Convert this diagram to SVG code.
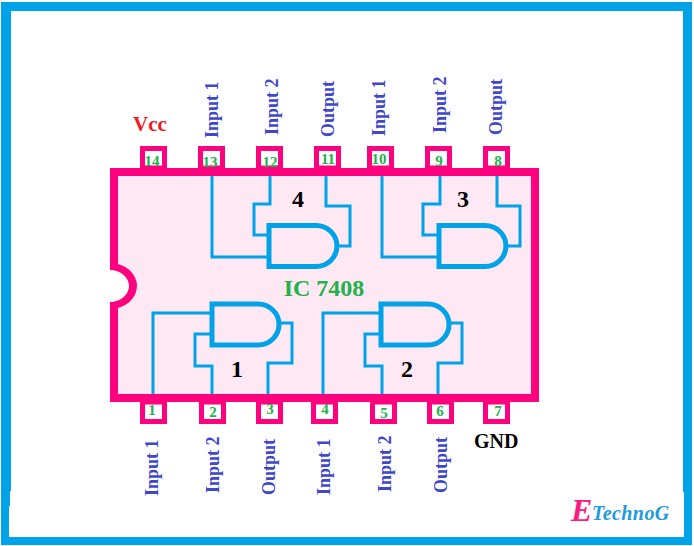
<svg xmlns="http://www.w3.org/2000/svg" width="694" height="546" viewBox="0 0 694 546">
<style>
text{font-family:"Liberation Serif","Times New Roman",serif;font-weight:bold}
.pin{fill:#fff;stroke:#ff007f;stroke-width:5}
.wire{fill:none;stroke:#00a2e8;stroke-width:3}
.gate{fill:none;stroke:#00a2e8;stroke-width:5}
.num{fill:#22b14c;font-size:15px;text-anchor:middle}
.lab{fill:#3f48cc;font-size:18px}
.big{fill:#000;font-size:24px;text-anchor:middle}
</style>
<rect width="694" height="546" fill="#fff"/>
<g id="frame"><path d="M1 2H692V545H1Z M11 11V491H10V506H9V537H684V492H683V11Z" fill="#00a2e8" fill-rule="evenodd"/></g>
<g id="chip">
<rect x="114" y="172" width="421" height="226" fill="#fde8f4" stroke="#ff007f" stroke-width="8"/>
<path d="M110 263A27 23 0 0 1 110 309Z" fill="#ff007f"/>
<path d="M110 270A19 16 0 0 1 110 302Z" fill="#fff"/>
<text x="324" y="296" style="font-size:24px;fill:#22b14c;text-anchor:middle">IC 7408</text>
</g>
<g id="connectors">
<path class="wire" d="M212 176V257H269"/>
<path class="wire" d="M270 176V204H254V235H269"/>
<path class="wire" d="M326 176V206H350V246H338"/>
<path class="wire" d="M382 176V257H439"/>
<path class="wire" d="M440 176V204H423V235H439"/>
<path class="wire" d="M497 176V206H520V246H507"/>
<path class="wire" d="M153 394V313H212"/>
<path class="wire" d="M212 394V366H195V334H212"/>
<path class="wire" d="M268 394V363H292V323H280"/>
<path class="wire" d="M323 394V313H381"/>
<path class="wire" d="M382 394V366H365V334H381"/>
<path class="wire" d="M438 394V363H462V323H450"/>
</g>
<g id="gate4"><path class="gate" d="M269 225.500H316A21 20.500 0 0 1 316 266.500H269Z"/><text class="big" x="298" y="207">4</text></g>
<g id="gate3"><path class="gate" d="M439 225.500H485A21 20.500 0 0 1 485 266.500H439Z"/><text class="big" x="463" y="207">3</text></g>
<g id="gate1"><path class="gate" d="M212 304H258A21 20.500 0 0 1 258 345H212Z"/><text class="big" x="237" y="377">1</text></g>
<g id="gate2"><path class="gate" d="M381 304H428A21 20.500 0 0 1 428 345H381Z"/><text class="big" x="407" y="377">2</text></g>
<g id="pin14"><rect class="pin" x="142.500" y="148.500" width="22" height="19.500"/><text class="num" x="152" y="166">14</text>
<text x="133" y="131" style="font-size:21px;fill:#ed1c24">Vcc</text></g>
<g id="pin13"><rect class="pin" x="200.500" y="148.500" width="22" height="19.500"/><text class="num" x="210" y="167">13</text>
<text class="lab" transform="translate(218 138) rotate(-90)">Input 1</text></g>
<g id="pin12"><rect class="pin" x="258.500" y="148.500" width="22" height="19.500"/><text class="num" x="270" y="167">12</text>
<text class="lab" transform="translate(278 135) rotate(-90)">Input 2</text></g>
<g id="pin11"><rect class="pin" x="316.500" y="148.500" width="22" height="19.500"/><text class="num" x="328" y="164">11</text>
<text class="lab" transform="translate(334 137) rotate(-90)">Output</text></g>
<g id="pin10"><rect class="pin" x="369.500" y="148.500" width="22" height="19.500"/><text class="num" x="379" y="164">10</text>
<text class="lab" transform="translate(385 136) rotate(-90)">Input 1</text></g>
<g id="pin9"><rect class="pin" x="427.500" y="148.500" width="22" height="19.500"/><text class="num" x="439" y="166">9</text>
<text class="lab" transform="translate(446 133) rotate(-90)">Input 2</text></g>
<g id="pin8"><rect class="pin" x="485.500" y="148.500" width="22" height="19.500"/><text class="num" x="498" y="166">8</text>
<text class="lab" transform="translate(502 135) rotate(-90)">Output</text></g>
<g id="pin1"><rect class="pin" x="142.500" y="402" width="22" height="19.500"/><text class="num" x="152" y="415">1</text>
<text class="lab" transform="translate(158 496) rotate(-90)">Input 1</text></g>
<g id="pin2"><rect class="pin" x="201.500" y="402" width="22" height="19.500"/><text class="num" x="213" y="417">2</text>
<text class="lab" transform="translate(219 493) rotate(-90)">Input 2</text></g>
<g id="pin3"><rect class="pin" x="258.500" y="402" width="22" height="19.500"/><text class="num" x="270" y="414">3</text>
<text class="lab" transform="translate(275 495) rotate(-90)">Output</text></g>
<g id="pin4"><rect class="pin" x="313.500" y="402" width="22" height="19.500"/><text class="num" x="325" y="414">4</text>
<text class="lab" transform="translate(330 495) rotate(-90)">Input 1</text></g>
<g id="pin5"><rect class="pin" x="372.500" y="402" width="22" height="19.500"/><text class="num" x="384" y="418">5</text>
<text class="lab" transform="translate(391 492) rotate(-90)">Input 2</text></g>
<g id="pin6"><rect class="pin" x="429.500" y="402" width="22" height="19.500"/><text class="num" x="440" y="416">6</text>
<text class="lab" transform="translate(447 493) rotate(-90)">Output</text></g>
<g id="pin7"><rect class="pin" x="485.500" y="402" width="22" height="19.500"/><text class="num" x="498" y="416">7</text>
<text x="474" y="448" style="font-size:20px;fill:#000">GND</text></g>
<g id="logo">
<text x="571" y="521" style="font-size:32px;font-style:italic;fill:#ff1a7f">E</text>
<text x="592" y="520" style="font-size:20px;font-style:italic;letter-spacing:.4px;fill:#1b9be0">TechnoG</text>
</g>
</svg>
